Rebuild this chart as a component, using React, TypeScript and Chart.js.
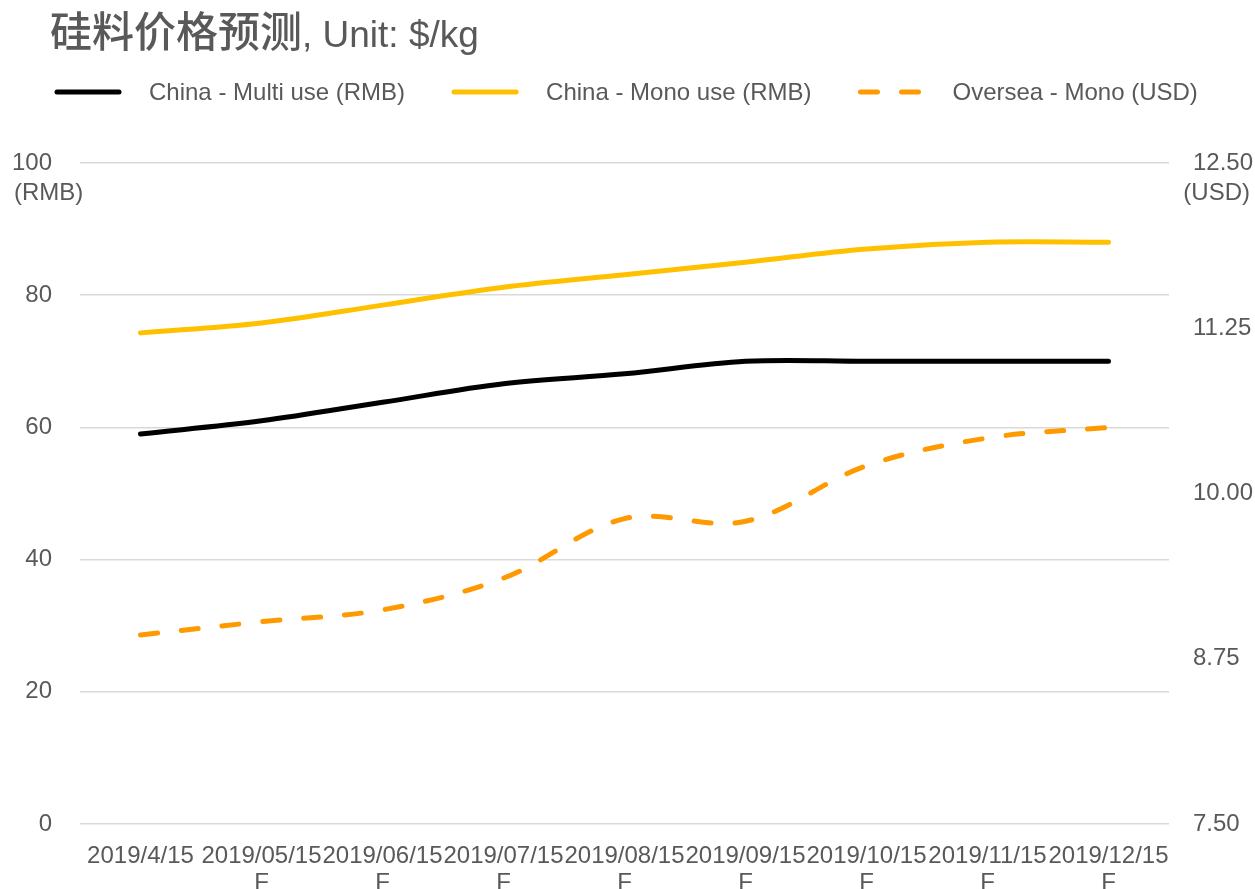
import React, { useEffect, useRef } from "react";
import { Chart, registerables } from "chart.js";

Chart.register(...registerables);

// ---- data ----
const categories = [
  "2019/4/15",
  "2019/05/15",
  "2019/06/15",
  "2019/07/15",
  "2019/08/15",
  "2019/09/15",
  "2019/10/15",
  "2019/11/15",
  "2019/12/15",
];
const forecastMarks = ["", "F", "F", "F", "F", "F", "F", "F", "F"];
const chinaMulti = [59.0, 61.0, 63.8, 66.6, 68.1, 70.0, 70.0, 70.0, 70.0];
const chinaMono = [74.3, 75.8, 78.5, 81.2, 83.1, 85.0, 87.0, 88.0, 88.0];
const overseaMono = [8.93, 9.03, 9.12, 9.36, 9.81, 9.79, 10.21, 10.42, 10.5];
const leftTickValues = [0, 20, 40, 60, 80, 100];
const rightTickValues = [7.5, 8.75, 10, 11.25, 12.5];
const seriesNames = ["China - Multi use (RMB)", "China - Mono use (RMB)", "Oversea - Mono (USD)"];
const titleCn = "硅料价格预测";
const titleEn = ", Unit: $/kg";
const leftUnit = "(RMB)";
const rightUnit = "(USD)";

// ---- styles ----
const TEXT = "#595959";
const GRID = "#d9d9d9";
const FONT = '"Liberation Sans", Arial, sans-serif';
const CJK = '"Noto Sans CJK SC", "Liberation Sans", sans-serif';

const overlayPlugin = {
  id: "overlay",
  afterDraw(chart: any) {
    const ctx = chart.ctx as CanvasRenderingContext2D;
    ctx.save();
    // title
    ctx.fillStyle = TEXT;
    ctx.textAlign = "left";
    ctx.textBaseline = "alphabetic";
    ctx.font = `500 42px ${CJK}`;
    ctx.fillText(titleCn, 50, 47);
    const w = ctx.measureText(titleCn).width;
    ctx.font = `37px ${FONT}`;
    ctx.fillText(titleEn, 50 + w, 47);

    // legend
    const ly = 92;
    let x = 57;
    const lineLen = 62;
    ctx.font = `24px ${FONT}`;
    ctx.textBaseline = "middle";
    chart.data.datasets.forEach((ds: any) => {
      ctx.save();
      ctx.strokeStyle = ds.borderColor;
      ctx.lineWidth = 5;
      ctx.lineCap = "round";
      ctx.setLineDash(ds.borderDash || []);
      ctx.beginPath();
      ctx.moveTo(x, ly);
      ctx.lineTo(x + lineLen, ly);
      ctx.stroke();
      ctx.restore();
      const tx = x + lineLen + 30;
      ctx.fillStyle = TEXT;
      ctx.fillText(ds.label, tx + 0, ly + 1);
      x = tx + ctx.measureText(ds.label).width + 49;
    });

    // axis units
    const yTop = chart.scales.y.getPixelForValue(leftTickValues[leftTickValues.length - 1]);
    ctx.textAlign = "left";
    ctx.fillText(leftUnit, 14, yTop + 30);
    ctx.textAlign = "right";
    ctx.fillText(rightUnit, 1250, yTop + 30);
    ctx.restore();
  },
};

export default function App() {
  const ref = useRef<HTMLCanvasElement | null>(null);
  useEffect(() => {
    if (!ref.current) return;
    const labels = categories.map((c, i) => (forecastMarks[i] ? [c, forecastMarks[i]] : c));
    const lineCommon = {
      borderWidth: 5,
      pointRadius: 0,
      pointHoverRadius: 0,
      tension: 0.35,
      borderCapStyle: "round" as const,
      borderJoinStyle: "round" as const,
      fill: false,
    };
    const chart = new Chart(ref.current, {
      type: "line",
      data: {
        labels,
        datasets: [
          { ...lineCommon, label: seriesNames[0], data: chinaMulti, borderColor: "#000000", backgroundColor: "#000000", yAxisID: "y" },
          { ...lineCommon, label: seriesNames[1], data: chinaMono, borderColor: "#FFC000", backgroundColor: "#FFC000", yAxisID: "y" },
          {
            ...lineCommon,
            label: seriesNames[2],
            data: overseaMono,
            borderColor: "#FF9900",
            backgroundColor: "#FF9900",
            borderDash: [17, 24],
            yAxisID: "y1",
          },
        ],
      },
      options: {
        responsive: false,
        animation: false,
        layout: { padding: { top: 163, left: 0, right: 0, bottom: 0 } },
        plugins: {
          legend: { display: false },
          title: { display: false },
          tooltip: { enabled: false },
        },
        scales: {
          x: {
            type: "category",
            offset: true,
            grid: { display: false, drawTicks: false },
            border: { display: false },
            ticks: {
              color: TEXT,
              font: { family: FONT, size: 24, lineHeight: 1.12 },
              padding: 19,
              maxRotation: 0,
              minRotation: 0,
              autoSkip: false,
            },
            afterFit: (s: any) => {
              s.height = 65;
            },
          },
          y: {
            position: "left",
            min: leftTickValues[0],
            max: leftTickValues[leftTickValues.length - 1],
            afterBuildTicks: (s: any) => {
              s.ticks = leftTickValues.map((v) => ({ value: v }));
            },
            grid: { color: GRID, lineWidth: 1.5, drawTicks: false },
            border: { display: false },
            ticks: {
              color: TEXT,
              font: { family: FONT, size: 24 },
              padding: 28,
              callback: (v: any) => String(v),
            },
            afterFit: (s: any) => {
              s.width = 80;
            },
          },
          y1: {
            position: "right",
            min: rightTickValues[0],
            max: rightTickValues[rightTickValues.length - 1],
            afterBuildTicks: (s: any) => {
              s.ticks = rightTickValues.map((v) => ({ value: v }));
            },
            grid: { display: false, drawTicks: false },
            border: { display: false },
            ticks: {
              color: TEXT,
              font: { family: FONT, size: 24 },
              padding: 24,
              callback: (v: any) => Number(v).toFixed(2),
            },
            afterFit: (s: any) => {
              s.width = 86;
            },
          },
        },
      },
      plugins: [overlayPlugin],
    });
    return () => chart.destroy();
  }, []);

  return (
    <div style={{ position: "absolute", left: 0, top: 0, width: 1255, height: 889, background: "#ffffff" }}>
      <canvas ref={ref} width={1255} height={889} />
    </div>
  );
}
